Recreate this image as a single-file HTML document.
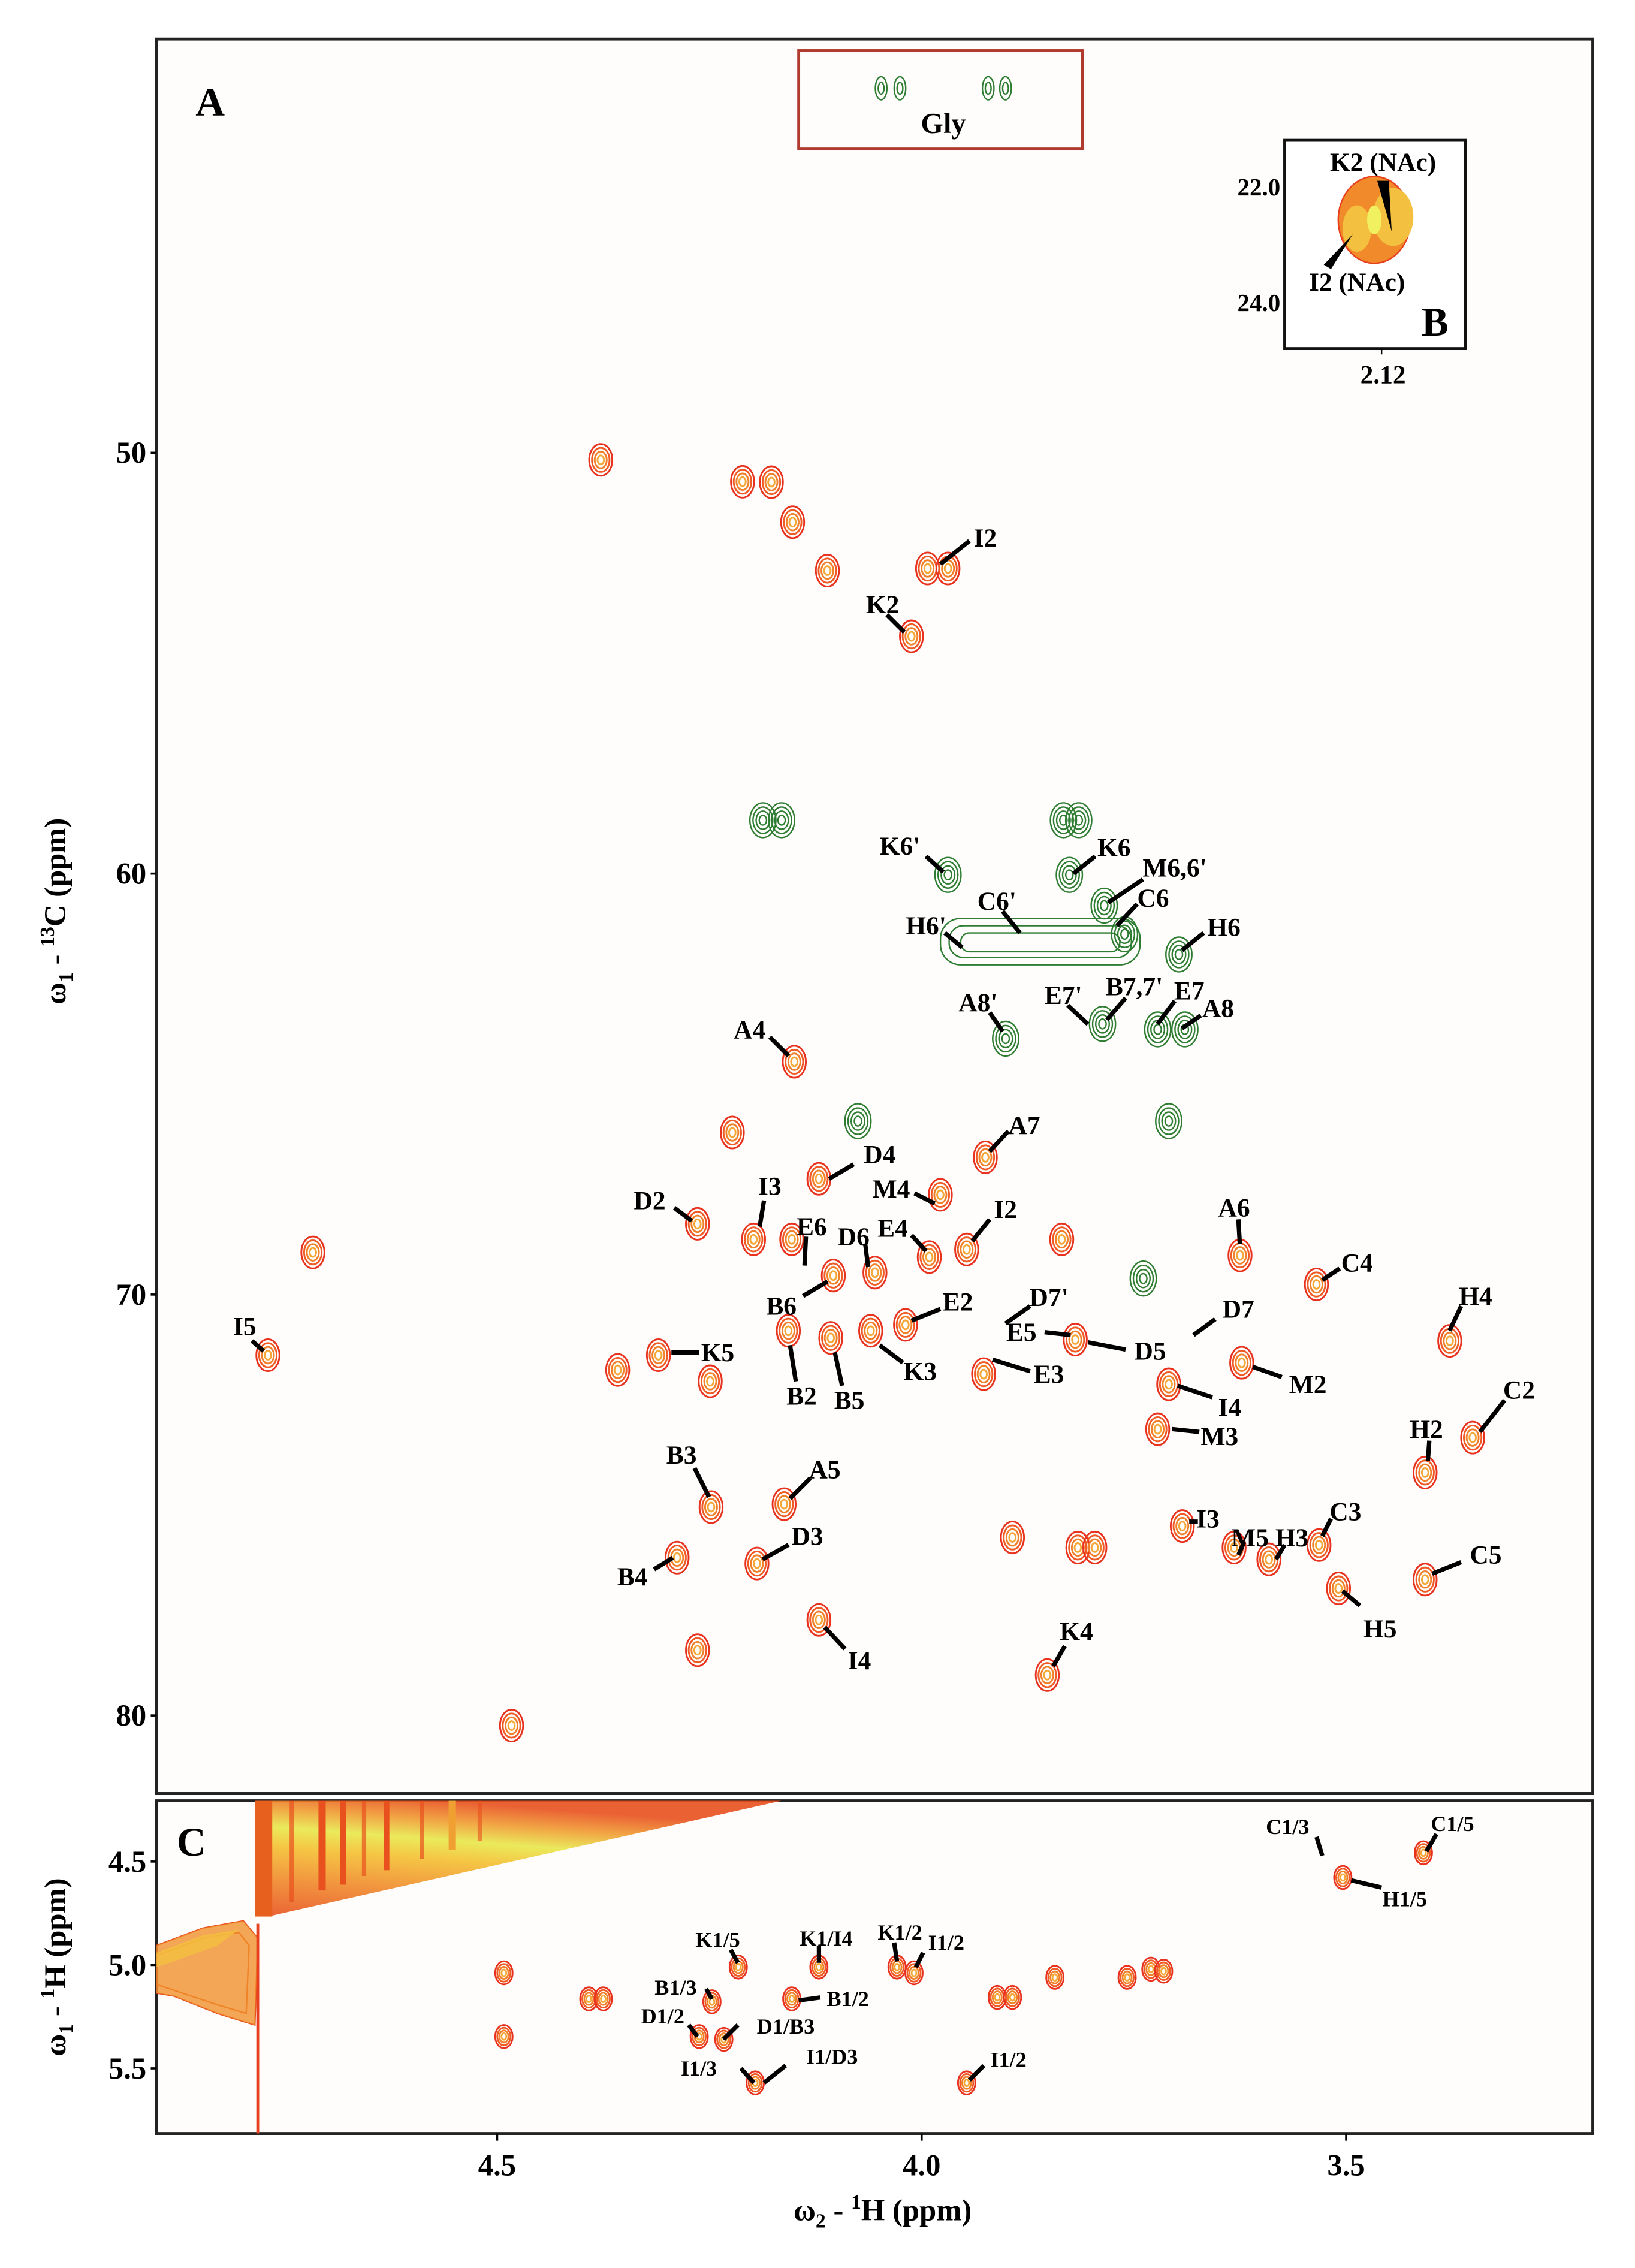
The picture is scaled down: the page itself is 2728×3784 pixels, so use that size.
<!DOCTYPE html>
<html><head><meta charset="utf-8"><style>
html,body{margin:0;padding:0;background:#fff;}
svg{display:block;}
text{font-family:"Liberation Serif",serif;font-weight:bold;fill:#000;}
</style></head><body>
<svg id="chart" width="2728" height="3784" viewBox="0 0 1130 1568" xmlns="http://www.w3.org/2000/svg">
<defs>
<linearGradient id="diag" x1="0" y1="1" x2="0.35" y2="0">
<stop offset="0" stop-color="#e8501e"/><stop offset="0.3" stop-color="#f08a2a"/><stop offset="0.55" stop-color="#f4c030"/><stop offset="0.7" stop-color="#e8e84a"/><stop offset="0.85" stop-color="#f09a30"/><stop offset="1" stop-color="#e8501e"/>
</linearGradient>
<clipPath id="clipA"><rect x="108" y="27" width="993" height="1213"/></clipPath>
<clipPath id="clipC"><rect x="108" y="1245" width="993" height="230"/></clipPath>
</defs>
<rect x="0" y="0" width="1130" height="1568" fill="#fff"/>
<rect x="108" y="27" width="993" height="1213" fill="#fefdfc" stroke="#222" stroke-width="2"/>
<rect x="108" y="1245" width="993" height="230" fill="#fefdfc" stroke="#222" stroke-width="2"/>
<g id="diagonal" clip-path="url(#clipC)">
<polygon points="177,1245 540,1245 185,1325" fill="url(#diag)" opacity="0.9"/>
<g fill="none" stroke="#e8501e" stroke-width="1">
<polygon points="108,1345 140,1333 168,1328 178,1340 176,1400 150,1392 120,1380 108,1378"/>
<polygon points="108,1352 140,1340 165,1336 172,1345 170,1392 150,1386 120,1376 108,1372"/>
</g>
<polygon points="108,1345 140,1333 168,1328 178,1340 176,1400 150,1392 120,1380 108,1378" fill="#f0902a" opacity="0.8"/>
<polygon points="108,1350 140,1338 165,1334 150,1345 120,1356 108,1360" fill="#f4c040" opacity="0.8"/>
<rect x="176" y="1245" width="12" height="80" fill="#e8601e"/>
<rect x="200" y="1245" width="3" height="70" fill="#e8501e" opacity="0.7"/>
<rect x="220" y="1245" width="5" height="62" fill="#e8501e"/>
<rect x="235" y="1245" width="4" height="58" fill="#e8501e"/>
<rect x="250" y="1245" width="3" height="52" fill="#e8501e" opacity="0.7"/>
<rect x="265" y="1245" width="4" height="48" fill="#e8501e"/>
<rect x="290" y="1245" width="3" height="40" fill="#e8501e" opacity="0.7"/>
<rect x="310" y="1245" width="5" height="34" fill="#f0a030"/>
<rect x="330" y="1245" width="3" height="28" fill="#e8501e" opacity="0.6"/>
<line x1="178" y1="1330" x2="178" y2="1475" stroke="#e8401e" stroke-width="2"/>
</g>
<g id="peaksA" clip-path="url(#clipA)"></g>
<g fill="none" stroke="#2e7d32" stroke-width="1">
<rect x="650" y="635" width="138" height="32" rx="14"/>
<rect x="656" y="640" width="126" height="22" rx="10"/>
<rect x="664" y="645" width="110" height="13" rx="6"/>
</g>
<g id="peaksC" clip-path="url(#clipC)"></g>
<g id="axes"></g>
<rect x="552" y="35" width="196" height="68" fill="none" stroke="#b03a2e" stroke-width="2"/>
<g fill="none" stroke="#2e7d32" stroke-width="1">
<ellipse cx="609" cy="61" rx="4" ry="8"/><ellipse cx="609" cy="61" rx="2" ry="4"/>
<ellipse cx="622" cy="61" rx="4" ry="8"/><ellipse cx="622" cy="61" rx="2" ry="4"/>
<ellipse cx="683" cy="61" rx="4" ry="8"/><ellipse cx="683" cy="61" rx="2" ry="4"/>
<ellipse cx="695" cy="61" rx="4" ry="8"/><ellipse cx="695" cy="61" rx="2" ry="4"/>
</g>
<text x="652" y="92" font-size="20" text-anchor="middle">Gly</text>
<text x="135" y="80" font-size="28">A</text>
<text x="122" y="1283" font-size="28">C</text>
<g>
<rect x="888" y="97" width="125" height="144" fill="#fff" stroke="#111" stroke-width="2"/>
<ellipse cx="950" cy="152" rx="25" ry="30" fill="#f08a2a" stroke="#e8401e"/>
<ellipse cx="963" cy="150" rx="14" ry="20" fill="#f4c040"/>
<ellipse cx="938" cy="158" rx="10" ry="16" fill="#f4c040"/>
<ellipse cx="950" cy="152" rx="5" ry="10" fill="#f0f060"/>
<polygon points="952,125 960,125 962,160" fill="#000"/>
<polygon points="915,183 920,186 935,162" fill="#000"/>
<text x="956" y="118" font-size="18" text-anchor="middle">K2 (NAc)</text>
<text x="938" y="201" font-size="18" text-anchor="middle">I2 (NAc)</text>
<text x="992" y="232" font-size="28" text-anchor="middle">B</text>
<text x="885" y="135" font-size="17" text-anchor="end">22.0</text>
<text x="885" y="215" font-size="17" text-anchor="end">24.0</text>
<text x="956" y="265" font-size="18" text-anchor="middle">2.12</text>
<line x1="955" y1="241" x2="955" y2="245" stroke="#000"/>
</g>
<g id="labels"></g>
</svg>
<script>
const NS="http://www.w3.org/2000/svg";
function xScale(h){return 637+(4.0-h)*587;}
function yScaleA(c){return 313+(c-50)*29.1;}
function yScaleC(h){return 1287+(h-4.5)*143;}
const redH=[4.378,4.211,4.177,4.152,4.111,3.993,3.969,4.012,4.150,4.223,4.121,3.925,3.978,4.264,4.198,4.153,3.947,3.835,3.991,4.104,4.055,4.717,4.358,4.310,4.249,4.157,4.107,4.060,4.019,3.927,3.819,3.709,3.623,3.625,3.535,3.378,3.351,3.407,3.722,4.770,4.248,4.162,4.194,4.288,4.121,4.264,3.893,3.816,3.796,3.693,3.632,3.591,3.532,3.509,3.407,3.852,4.483];
const redC=[50.17,50.69,50.70,51.65,52.80,52.75,52.75,54.36,64.47,66.15,67.25,66.74,67.63,68.32,68.69,68.69,68.93,68.69,69.11,69.55,69.48,69.00,71.79,71.44,72.06,70.86,71.03,70.86,70.72,71.89,71.07,72.13,71.62,69.07,69.76,71.10,73.40,74.23,73.20,71.44,75.05,74.98,76.39,76.25,77.73,78.45,75.77,76.01,76.01,75.50,76.01,76.29,75.95,76.98,76.77,79.04,80.24];
const greenH=[4.187,4.165,3.969,3.833,3.815,3.826,3.785,3.761,3.697,3.901,3.787,3.722,3.690,4.075,3.709,3.739];
const greenC=[58.73,58.73,60.03,58.73,58.73,60.03,60.76,61.44,61.92,63.92,63.57,63.70,63.70,65.88,65.88,69.62];
const cH2=[3.504,3.409,4.492,4.492,4.392,4.375,4.247,4.216,4.153,4.121,4.029,4.009,4.262,4.233,4.196,3.947,3.911,3.893,3.843,3.758,3.730,3.715];
const cH1=[4.577,4.458,5.038,5.346,5.164,5.164,5.178,5.010,5.164,5.010,5.010,5.038,5.346,5.360,5.570,5.570,5.157,5.157,5.060,5.060,5.020,5.030];

function peak(g,cx,cy,rx,ry,type,name){
  const grp=document.createElementNS(NS,'g');
  
  
  const cols=type==='g'?['#2e7d32','#2e7d32','#2e7d32','#2e7d32']:['#e8321e','#f05a24','#f0802a','#f5a838'];
  for(let i=0;i<4;i++){
    const e=document.createElementNS(NS,'ellipse');
    e.setAttribute('cx',cx);e.setAttribute('cy',cy);
    e.setAttribute('rx',rx*(1-i*0.24));e.setAttribute('ry',ry*(1-i*0.24));
    e.setAttribute('fill','none');e.setAttribute('stroke',cols[i]);e.setAttribute('stroke-width',type==='g'?1:1.2);
    grp.appendChild(e);
  }
  g.appendChild(grp);
}
const gA=document.getElementById('peaksA');
redH.forEach((h,i)=>{peak(gA,xScale(h),yScaleA(redC[i]),8,11,'r','red-peak');});
greenH.forEach((h,i)=>{peak(gA,xScale(h),yScaleA(greenC[i]),9,12,'g','green-peak');});
const gC=document.getElementById('peaksC');
cH2.forEach((h,i)=>{peak(gC,xScale(h),yScaleC(cH1[i]),6,8,'r','cosy-peak');});

const ax=document.getElementById('axes');
function txt(x,y,s,size,anchor,name,rot){
  const t=document.createElementNS(NS,'text');
  t.setAttribute('x',x);t.setAttribute('y',y);t.setAttribute('font-size',size);
  t.setAttribute('text-anchor',anchor||'start');
  if(rot)t.setAttribute('transform',rot);
  t.textContent=s;
  
  
  ax.appendChild(t);return t;
}
function tick(x1,y1,x2,y2){
  const l=document.createElementNS(NS,'line');
  l.setAttribute('x1',x1);l.setAttribute('y1',y1);l.setAttribute('x2',x2);l.setAttribute('y2',y2);
  l.setAttribute('stroke','#000');l.setAttribute('stroke-width','1.5');
  
  
  ax.appendChild(l);
}
const yTicksA=[50,60,70,80];
const yTicksALabels=['50','60','70','80'];
yTicksA.forEach((v,i)=>{const y=yScaleA(v);tick(104,y,108,y);txt(101,y+7,yTicksALabels[i],21,'end','y-tick-label');});
const yTicksC=[4.5,5.0,5.5];
const yTicksCLabels=['4.5','5.0','5.5'];
yTicksC.forEach((v,i)=>{const y=yScaleC(v);tick(104,y,108,y);txt(101,y+7,yTicksCLabels[i],21,'end','y-tick-label-c');});
const xTicks=[4.5,4.0,3.5];
const xTickLabels=['4.5','4.0','3.5'];
xTicks.forEach((v,i)=>{const x=xScale(v);tick(x,1475,x,1480);txt(x,1504,xTickLabels[i],21,'middle','x-tick-label');});
(function(){
  const t=txt(610,1535,'',21,'middle','x-axis-title');
  t.innerHTML='ω<tspan font-size="14" dy="5">2</tspan><tspan dy="-5"> - </tspan><tspan font-size="14" dy="-8">1</tspan><tspan dy="8">H  (ppm)</tspan>';
  const t2=txt(0,0,'',21,'middle','y-axis-title-13c','translate(45,630) rotate(-90)');
  t2.innerHTML='ω<tspan font-size="14" dy="5">1</tspan><tspan dy="-5"> - </tspan><tspan font-size="14" dy="-8">13</tspan><tspan dy="8">C  (ppm)</tspan>';
  const t3=txt(0,0,'',21,'middle','y-axis-title-1h','translate(45,1360) rotate(-90)');
  t3.innerHTML='ω<tspan font-size="14" dy="5">1</tspan><tspan dy="-5"> - </tspan><tspan font-size="14" dy="-8">1</tspan><tspan dy="8">H  (ppm)</tspan>';
})();

const anno=[
["I2",681,372,670,374,650,390],["K2",610,418,613,425,625,437],["K6'",622,585,640,592,652,603],["K6",770,586,757,592,742,604],
["M6,6'",812,600,790,608,766,624],["C6",797,621,786,625,772,640],["C6'",689,623,693,630,705,645],["H6'",640,640,653,645,665,655],
["H6",846,641,832,645,817,657],["A8'",676,693,684,700,693,713],["E7'",735,688,738,695,752,708],["B7,7'",784,682,778,690,765,705],
["E7",822,685,812,692,800,708],["A8",842,697,830,702,817,711],["A4",518,712,532,717,545,730],["A7",708,778,697,782,684,796],
["D4",608,798,590,805,573,815],["M4",616,822,632,825,646,832],["D2",449,830,466,835,478,844],["I3",532,820,528,830,525,848],
["I2",695,836,684,843,672,858],["E6",561,848,557,855,556,875],["D6",590,855,598,860,600,876],["E4",617,849,630,854,640,865],
["A6",853,835,856,843,857,860],["C4",938,873,926,877,914,885],["H4",1020,896,1010,903,1002,920],["B6",540,903,555,896,572,886],
["D7'",725,897,712,903,695,915],["E2",662,900,650,905,630,913],["D7",856,905,840,912,825,923],["E5",706,921,722,921,740,923],
["D5",795,934,778,933,752,928],["K5",496,935,483,935,464,935],["I5",169,917,174,927,182,934],["B2",554,965,550,955,546,930],
["B5",587,968,582,958,577,935],["K3",636,948,624,942,608,930],["E3",725,950,712,948,686,940],["M2",904,957,886,952,866,945],
["I4",850,973,838,966,814,958],["C2",1050,961,1040,968,1023,990],["M3",843,993,829,990,810,988],["H2",986,988,988,996,987,1010],
["I3",835,1050,828,1052,822,1052],["M5",864,1063,860,1066,856,1075],["H3",893,1063,888,1068,882,1078],["C3",930,1045,920,1050,914,1062],
["C5",1027,1075,1010,1080,990,1088],["H5",954,1126,940,1110,928,1100],["B3",471,1006,480,1015,490,1035],["A5",570,1016,560,1022,546,1036],
["D3",558,1062,545,1068,527,1078],["B4",437,1090,452,1085,465,1077],["I4",594,1148,584,1140,570,1125],["K4",744,1128,736,1138,728,1152],
["C1/3",890,1262,910,1270,914,1283],["C1/5",1004,1260,993,1268,986,1280],["H1/5",971,1312,955,1305,934,1300],["K1/5",496,1340,505,1348,510,1357],
["K1/I4",571,1339,566,1345,566,1357],["K1/2",622,1335,618,1343,620,1356],["I1/2",654,1342,638,1350,633,1360],["B1/3",467,1373,488,1375,492,1382],
["B1/2",586,1381,567,1381,552,1383],["D1/2",458,1393,476,1400,482,1408],["D1/B3",543,1400,510,1400,500,1410],["I1/3",483,1429,512,1430,521,1440],
["I1/D3",575,1421,543,1428,528,1440],["I1/2",697,1423,680,1428,670,1438]
];
const lg=document.getElementById('labels');
anno.forEach(a=>{
  const t=document.createElementNS(NS,'text');
  t.setAttribute('x',a[1]);t.setAttribute('y',a[2]+6);
  t.setAttribute('font-size',a[2]>1245?15:18);t.setAttribute('text-anchor','middle');
  t.textContent=a[0];
  
  
  lg.appendChild(t);
  const l=document.createElementNS(NS,'line');
  l.setAttribute('x1',a[3]);l.setAttribute('y1',a[4]);l.setAttribute('x2',a[5]);l.setAttribute('y2',a[6]);
  l.setAttribute('stroke','#000');l.setAttribute('stroke-width','3');
  
  
  lg.appendChild(l);
});
</script>
</body></html>
